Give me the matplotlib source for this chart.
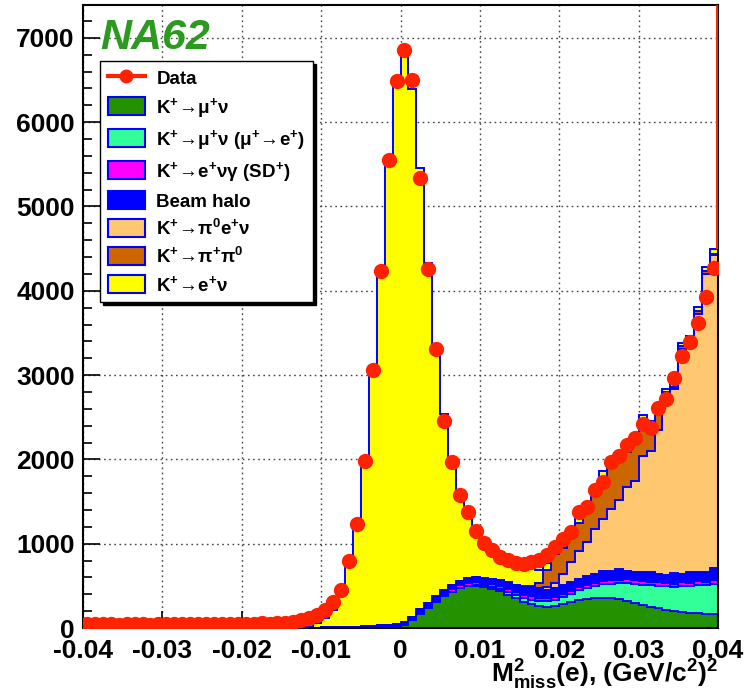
import numpy as np
import matplotlib.pyplot as plt
from matplotlib.patches import Patch
from matplotlib.lines import Line2D
from matplotlib.ticker import MultipleLocator

plt.rcParams['font.family'] = ['Liberation Sans', 'DejaVu Sans']
plt.rcParams['font.weight'] = 'bold'
plt.rcParams['axes.labelweight'] = 'bold'
plt.rcParams['mathtext.fontset'] = 'custom'
plt.rcParams['mathtext.rm'] = 'Liberation Sans:bold'
plt.rcParams['mathtext.it'] = 'Liberation Sans:bold'
plt.rcParams['mathtext.bf'] = 'Liberation Sans:bold'
plt.rcParams['mathtext.default'] = 'rm'

# 80 bins of 0.001 (GeV/c^2)^2 from -0.04 to 0.04
edges = np.linspace(-0.04, 0.04, 81)
centers = 0.5 * (edges[1:] + edges[:-1])

data = [45, 42, 48, 44, 40, 46, 43, 47, 41, 45, 49, 44, 42, 47, 45, 50, 46, 48, 44, 52,
        49, 51, 55, 53, 58, 62, 70,
        95, 120, 150, 210, 307, 454, 795, 1234, 1980, 3063, 4234, 5551, 6488, 6853,
        6502, 5332, 4259, 3307, 2454, 1971, 1576, 1371, 1151, 1008, 922, 843, 804, 775,
        755, 784, 804, 863, 960, 1060, 1137, 1373, 1435, 1640, 1730, 1965, 2035, 2165,
        2258, 2418, 2378, 2610, 2718, 2970, 3232, 3390, 3622, 3922, 4268]

# MC components, bottom to top of the stack
k_mu2 = [0] * 36 + [3, 8, 12, 20, 40, 90, 170, 240, 310, 380, 430, 470, 495, 500, 485,
                    465, 435, 395, 350, 310, 280, 262, 255, 262, 285, 308, 328, 342, 352,
                    358, 355, 345, 325, 300, 275, 255, 235, 215, 200, 190, 180, 175, 170, 170]
k_mu2_mue = [0] * 47 + [5, 8, 15, 22, 25, 32, 35, 42, 45, 52, 55, 62, 70, 88, 100, 118, 130,
                        142, 160, 172, 190, 210, 222, 238, 250, 268, 282, 290, 312, 318, 335,
                        340, 352]
k_e2g_sd = [0] * 41 + [5, 10, 15, 20, 25, 28, 30, 30, 30, 30, 30, 32, 35, 38, 40, 42, 40, 40,
                       38, 35, 35, 40, 38, 35, 40, 45, 40, 42, 50, 45, 40, 42, 40, 35, 45, 40,
                       42, 38, 45]
halo = [0] * 30 + [8, 10, 12, 15, 15, 18, 20, 22, 25, 30, 35, 40, 45, 45, 50, 50, 55, 55, 60,
                   60, 60, 65, 70, 75, 80, 85, 90, 90, 95, 100, 100, 100, 95, 105, 110, 115,
                   110, 120, 105, 95, 110, 125, 100, 95, 130, 90, 130, 115, 120, 145]
k_e3 = [0] * 55 + [10, 15, 25, 40, 60, 130, 240, 330, 410, 530, 622, 725, 825, 990, 1080,
                   1370, 1430, 1700, 2130, 2180, 2675, 2750, 3060, 3530, 3710]
k_2pi = [0] * 54 + [5, 10, 15, 60, 200, 350, 315, 287, 335, 345, 405, 475, 500, 490, 420,
                    504, 435, 325, 238, 32, 20, 35, 15, 35, 35, 20]
k_e2 = [0] * 28 + [15, 60, 105, 200, 395, 705, 1220, 1985, 3040, 4255, 5515, 6380, 6720,
                   6260, 5230, 4030, 2910, 2085, 1447, 1030, 725, 530, 390, 300, 260, 245,
                   235, 225, 215, 158, 80, 50, 60, 70, 60, 80, 60, 90, 50, 50, 40, 40, 50,
                   35, 40, 40, 40, 35, 25, 45, 55, 50]

labels = [r'K$^{+}\!\rightarrow\!\mu^{+}\nu$',
          r'K$^{+}\!\rightarrow\!\mu^{+}\nu$ ($\mu^{+}\!\rightarrow\!$e$^{+}$)',
          r'K$^{+}\!\rightarrow\!$e$^{+}\nu\gamma$ (SD$^{+}$)',
          'Beam halo',
          r'K$^{+}\!\rightarrow\!\pi^{0}$e$^{+}\nu$',
          r'K$^{+}\!\rightarrow\!\pi^{+}\pi^{0}$',
          r'K$^{+}\!\rightarrow\!$e$^{+}\nu$']
colors = ['#249100', '#33ff99', '#ff00ff', '#0000ff', '#ffc870', '#cc6600', '#ffff00']

x_ticks = [-0.04, -0.03, -0.02, -0.01, 0, 0.01, 0.02, 0.03, 0.04]
x_tick_labels = ['-0.04', '-0.03', '-0.02', '-0.01', '0', '0.01', '0.02', '0.03', '0.04']
y_ticks = [0, 1000, 2000, 3000, 4000, 5000, 6000, 7000]

red = '#ff2200'
y_max = 7390

fig = plt.figure(figsize=(7.48, 6.95), dpi=100)
ax = fig.add_axes([83 / 748, 1 - 628 / 695, 635 / 748, 623 / 695])

comps = np.vstack([k_mu2, k_mu2_mue, k_e2g_sd, halo, k_e3, k_2pi, k_e2])
cum = np.cumsum(comps, axis=0)

# draw like a ROOT THStack: largest cumulative first
for k in range(len(comps) - 1, -1, -1):
    ax.stairs(cum[k], edges, fill=True, color=colors[k], lw=0, zorder=2)
    ax.stairs(cum[k], edges, color='#0000ff', lw=1.4, zorder=2)

data = np.array(data, dtype=float)
ax.errorbar(centers, data, xerr=0.0005, yerr=np.sqrt(data), fmt='o', color=red,
            ms=10, elinewidth=1.5, capsize=0, zorder=5)
ax.vlines(edges[-1] - 0.0001, cum[-1][-1], y_max, color=red, lw=1.5, zorder=5)

ax.set_xlim(-0.04, 0.04)
ax.set_ylim(0, y_max)
ax.set_xticks(x_ticks, x_tick_labels)
ax.set_yticks(y_ticks)
ax.xaxis.set_minor_locator(MultipleLocator(0.002))
ax.yaxis.set_minor_locator(MultipleLocator(200))
ax.tick_params(which='both', direction='in', labelsize=19, width=1.2)
ax.tick_params(which='major', length=12)
ax.tick_params(which='minor', length=6.5)
ax.tick_params(axis='x', pad=8)
ax.tick_params(axis='y', pad=6)
for s in ax.spines.values():
    s.set_linewidth(1.5)

ax.set_axisbelow(True)
ax.grid(True, which='major', color='#444444', lw=1, ls=(0, (1.2, 2.5)))

ax.set_xlabel(r'M$^{2}_{miss}$(e), (GeV/c$^{2}$)$^{2}$', loc='right', fontsize=19,
              fontweight='bold', labelpad=-4)

handles = [Line2D([], [], color=red, lw=3, marker='o', ms=9)]
for c in colors:
    handles.append(Patch(facecolor=c, edgecolor='#0000ff', lw=1.5))
leg = ax.legend(handles, ['Data'] + labels, loc='upper left',
                bbox_to_anchor=(100 / 748, 634 / 695), bbox_transform=fig.transFigure,
                borderaxespad=0, fontsize=13.5, fancybox=False, framealpha=1,
                edgecolor='black', shadow={'color': 'black', 'alpha': 1},
                handlelength=2.0, handleheight=1.1, labelspacing=0.42,
                handletextpad=0.6, borderpad=0.4)
leg.get_frame().set_linewidth(1.0)

fig.text(100 / 748, 1 - 49 / 695, 'NA62', ha='left', va='baseline', fontsize=31,
         style='italic', weight='bold', color='#2b9a1f')

fig.savefig('out.png', dpi=100)
